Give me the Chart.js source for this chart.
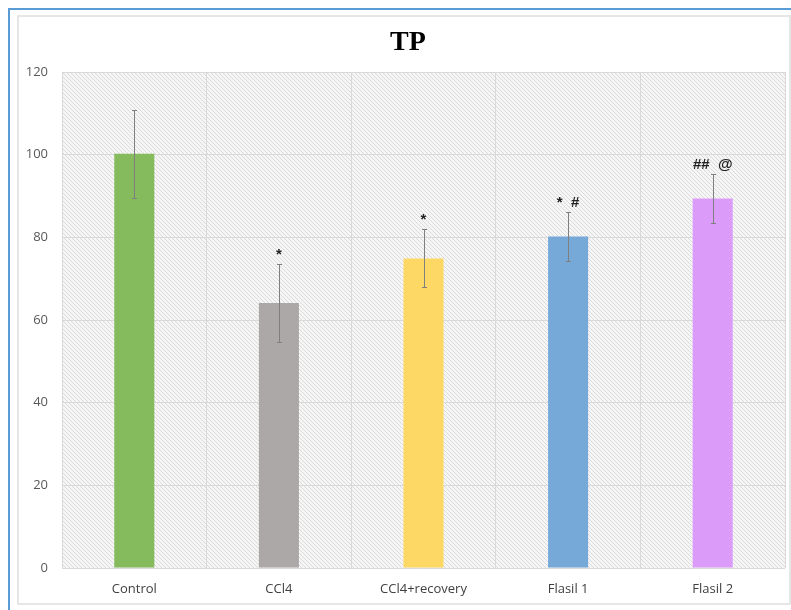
<!DOCTYPE html>
<html>
<head>
<meta charset="utf-8">
<script src="https://cdn.jsdelivr.net/npm/chart.js@4/dist/chart.umd.min.js"></script>
<style>
  html, body { margin: 0; padding: 0; background: #fff; width: 791px; height: 610px; overflow: hidden; }
  #outer { position: absolute; left: 8px; top: 8px; width: 790px; height: 610px;
           border-left: 2px solid #5b9bd5; border-top: 2px solid #5b9bd5; box-sizing: border-box; }
  #frame { position: absolute; left: 17px; top: 15px; width: 774px; height: 590px;
           border: 2px solid #e6e6e6; box-sizing: border-box; background: #fff; }
  #wrap { position: absolute; left: 18px; top: 16px; width: 772px; height: 587px; }
</style>
</head>
<body>
<div id="outer"></div>
<div id="frame"></div>
<div id="wrap"><canvas id="c"></canvas></div>
<script>
// Total protein (TP) per group, mean ± error
const chartTitle = 'TP';
const categories = ['Control', 'CCl4', 'CCl4+recovery', 'Flasil 1', 'Flasil 2'];
const means = [100.2, 64.1, 74.9, 80.2, 89.4];
const errors = [10.6, 9.4, 7.0, 6.0, 6.0];
const significance = ['', '*', '*', '*  #', '##  @'];
const barColors = ['#85bb5c', '#aca8a7', '#fdd864', '#76a8d8', '#da9cf8'];
const yTicks = [0, 20, 40, 60, 80, 100, 120];

// Light diagonal hatch used behind the bars
function makeHatch() {
  const s = 4;
  const c = document.createElement('canvas');
  c.width = s; c.height = s;
  const g = c.getContext('2d');
  g.fillStyle = '#f6f6f6';
  g.fillRect(0, 0, s, s);
  g.strokeStyle = '#dadada';
  g.lineWidth = 1;
  g.beginPath();
  g.moveTo(0, 0); g.lineTo(s, s);
  g.moveTo(-1, s - 1); g.lineTo(1, s + 1);
  g.moveTo(s - 1, -1); g.lineTo(s + 1, 1);
  g.stroke();
  return g.createPattern(c, 'repeat');
}

const hatchBackground = {
  id: 'hatchBackground',
  beforeDraw(chart) {
    const { ctx, chartArea: a } = chart;
    ctx.save();
    ctx.fillStyle = makeHatch();
    ctx.fillRect(a.left, a.top, a.right - a.left, a.bottom - a.top);
    ctx.restore();
  }
};

// Title centred over the whole frame
const frameTitle = {
  id: 'frameTitle',
  afterDraw(chart) {
    const { ctx } = chart;
    ctx.save();
    ctx.fillStyle = '#000';
    ctx.font = 'bold 28px "Liberation Serif", "Times New Roman", serif';
    ctx.textAlign = 'center';
    ctx.textBaseline = 'alphabetic';
    ctx.fillText(chartTitle, chart.width / 2 + 4, 34);
    ctx.restore();
  }
};

// Error whiskers with caps, plus significance marks above them
const errorBars = {
  id: 'errorBars',
  afterDatasetsDraw(chart) {
    const { ctx } = chart;
    const y = chart.scales.y;
    const meta = chart.getDatasetMeta(0);
    ctx.save();
    ctx.strokeStyle = '#7f7f7f';
    ctx.lineWidth = 1;
    meta.data.forEach((bar, i) => {
      const x = Math.round(bar.x) + 0.5;
      const top = Math.round(y.getPixelForValue(means[i] + errors[i])) + 0.5;
      const bot = Math.round(y.getPixelForValue(means[i] - errors[i])) + 0.5;
      ctx.beginPath();
      ctx.moveTo(x, top); ctx.lineTo(x, bot);
      ctx.moveTo(x - 2.5, top); ctx.lineTo(x + 2.5, top);
      ctx.moveTo(x - 2.5, bot); ctx.lineTo(x + 2.5, bot);
      ctx.stroke();
      if (significance[i]) {
        ctx.fillStyle = '#222';
        ctx.font = 'bold 15px "Liberation Sans", Arial, sans-serif';
        ctx.textAlign = 'center';
        ctx.textBaseline = 'alphabetic';
        ctx.fillText(significance[i], bar.x, top - 6);
      }
    });
    ctx.restore();
  }
};

new Chart(document.getElementById('c'), {
  type: 'bar',
  data: {
    labels: categories,
    datasets: [{
      data: means,
      backgroundColor: barColors,
      borderWidth: 0,
      barPercentage: 0.277,
      categoryPercentage: 1.0
    }]
  },
  options: {
    responsive: true,
    maintainAspectRatio: false,
    animation: false,
    layout: { padding: { left: 0, right: 5, top: 56, bottom: 0 } },
    plugins: {
      legend: { display: false },
      tooltip: { enabled: false },
      title: { display: false }
    },
    scales: {
      x: {
        grid: { color: '#d9d9d9', drawTicks: false, offset: true },
        border: { display: false },
        ticks: { color: '#404040', padding: 13, font: { family: '"Open Sans", sans-serif', size: 13 } },
        afterFit(scale) { scale.height = 35; }
      },
      y: {
        min: 0, max: 120,
        afterBuildTicks(scale) { scale.ticks = yTicks.map(v => ({ value: v })); },
        grid: { color: '#d9d9d9', drawTicks: false },
        border: { display: false },
        ticks: { color: '#595959', padding: 14, font: { family: '"Open Sans", sans-serif', size: 13 } },
        afterFit(scale) { scale.width = 44; }
      }
    }
  },
  plugins: [hatchBackground, errorBars, frameTitle]
});
</script>
</body>
</html>
